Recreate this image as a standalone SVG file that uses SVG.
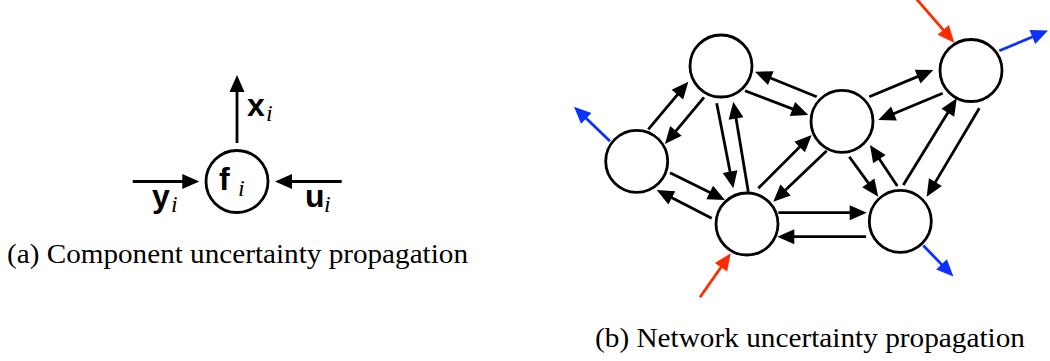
<svg xmlns="http://www.w3.org/2000/svg" width="1050" height="361" viewBox="0 0 1050 361">
  <defs>
    <!-- arrowheads: tip sits 10 units beyond the end of each line -->
    <marker id="ah" markerUnits="userSpaceOnUse" markerWidth="17" markerHeight="15" refX="7" refY="7.5" orient="auto" overflow="visible">
      <path d="M0,0 L17,7.5 L0,15 z" fill="#000"/>
    </marker>
    <marker id="ah-red" markerUnits="userSpaceOnUse" markerWidth="17" markerHeight="15" refX="7" refY="7.5" orient="auto" overflow="visible">
      <path d="M0,0 L17,7.5 L0,15 z" fill="#ff2a00"/>
    </marker>
    <marker id="ah-blue" markerUnits="userSpaceOnUse" markerWidth="17" markerHeight="15" refX="7" refY="7.5" orient="auto" overflow="visible">
      <path d="M0,0 L17,7.5 L0,15 z" fill="#0a32ff"/>
    </marker>
  </defs>
  <style>
    .node { fill: #fff; stroke: #000; stroke-width: 2.8; }
    .edge { stroke: #000; stroke-width: 2.8; fill: none; marker-end: url(#ah); }
    .in { stroke: #ff2a00; stroke-width: 2.8; fill: none; marker-end: url(#ah-red); }
    .out { stroke: #0a32ff; stroke-width: 2.8; fill: none; marker-end: url(#ah-blue); }
    .sym { font-family: "Liberation Sans", Arial, sans-serif; font-weight: bold; font-size: 32px; fill: #000; }
    .sub { font-family: "Liberation Serif", "Times New Roman", serif; font-style: italic; font-size: 24px; fill: #000; }
    .cap { font-family: "Liberation Serif", "Times New Roman", serif; font-size: 27px; fill: #000; }
  </style>

  <rect width="1050" height="361" fill="#fff"/>

  <!-- (a) single component -->
  <g id="component-connectors">
    <line class="edge" x1="237" y1="143" x2="237" y2="85"/>
    <line class="edge" x1="132.7" y1="181.5" x2="189.3" y2="181.5"/>
    <line class="edge" x1="341.7" y1="181.5" x2="285" y2="181.5"/>
  </g>
  <g id="component-f">
    <circle class="node" cx="237" cy="181.5" r="31"/>
    <text class="sym" x="219" y="190">f</text>
    <text class="sub" x="238" y="196">i</text>
  </g>
  <g id="label-x">
    <text class="sym" x="247" y="116">x</text>
    <text class="sub" x="266" y="121">i</text>
  </g>
  <g id="label-y">
    <text class="sym" x="152" y="207">y</text>
    <text class="sub" x="171" y="212">i</text>
  </g>
  <g id="label-u">
    <text class="sym" x="305" y="207">u</text>
    <text class="sub" x="324" y="212">i</text>
  </g>
  <text class="cap" x="7" y="263" textLength="461" lengthAdjust="spacingAndGlyphs">(a) Component uncertainty propagation</text>

  <!-- (b) network of components -->
  <g id="network-connectors">
    <line class="edge" x1="648.3" y1="129.3" x2="681.9" y2="89.3"/>
    <line class="edge" x1="704" y1="97.3" x2="671.4" y2="136.3"/>
    <line class="edge" x1="716.7" y1="103.3" x2="731.4" y2="178.5"/>
    <line class="edge" x1="748.3" y1="191.7" x2="734.9" y2="111.6"/>
    <line class="edge" x1="816.7" y1="96.7" x2="764.3" y2="75.5"/>
    <line class="edge" x1="745" y1="90.7" x2="799" y2="111.4"/>
    <line class="edge" x1="869.3" y1="96.7" x2="924.1" y2="73.9"/>
    <line class="edge" x1="942.7" y1="93.3" x2="887.5" y2="116.2"/>
    <line class="edge" x1="670" y1="172.7" x2="716" y2="195.6"/>
    <line class="edge" x1="711.7" y1="218.3" x2="665.6" y2="194.6"/>
    <line class="edge" x1="758.3" y1="188.3" x2="804.6" y2="142.1"/>
    <line class="edge" x1="826.7" y1="150.7" x2="780.5" y2="194.8"/>
    <line class="edge" x1="849.3" y1="156.7" x2="872.4" y2="188.6"/>
    <line class="edge" x1="897.3" y1="186" x2="875.5" y2="153.3"/>
    <line class="edge" x1="903.3" y1="185" x2="951.5" y2="106.8"/>
    <line class="edge" x1="979.3" y1="108.3" x2="931.8" y2="188.1"/>
    <line class="edge" x1="778.3" y1="212.7" x2="856.7" y2="212.7"/>
    <line class="edge" x1="866" y1="236.7" x2="787.3" y2="236.7"/>
    <!-- external inputs and outputs -->
    <line class="in" x1="916.5" y1="-1" x2="947.8" y2="35.1"/>
    <line class="in" x1="700" y1="297.3" x2="725" y2="261.5"/>
    <line class="out" x1="999.3" y1="50.7" x2="1038.8" y2="34.3"/>
    <line class="out" x1="610" y1="141.3" x2="581.2" y2="113.6"/>
    <line class="out" x1="923.3" y1="245.5" x2="946.4" y2="269.4"/>
  </g>
  <g id="node-a"><circle class="node" cx="721" cy="66" r="31"/></g>
  <g id="node-b"><circle class="node" cx="636.7" cy="161.3" r="31"/></g>
  <g id="node-c"><circle class="node" cx="842" cy="121.3" r="31"/></g>
  <g id="node-d"><circle class="node" cx="971" cy="70.5" r="31"/></g>
  <g id="node-e"><circle class="node" cx="747" cy="224" r="31"/></g>
  <g id="node-f"><circle class="node" cx="900.3" cy="221.3" r="31"/></g>
  <text class="cap" x="595" y="347" textLength="430" lengthAdjust="spacingAndGlyphs">(b) Network uncertainty propagation</text>
</svg>
